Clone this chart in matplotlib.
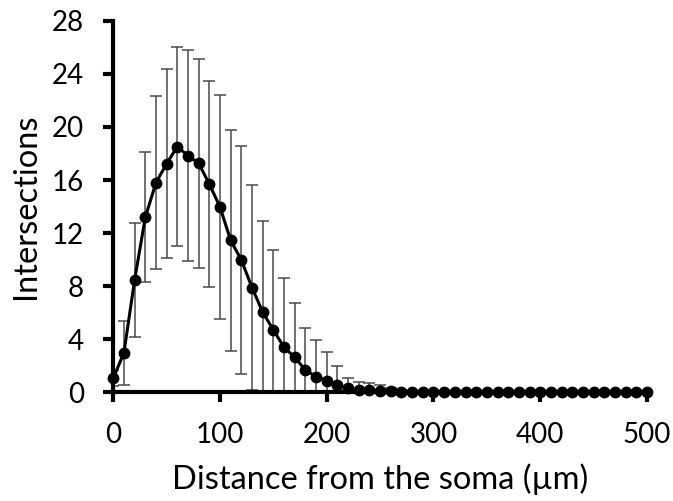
import matplotlib
matplotlib.use("Agg")
import matplotlib.pyplot as plt

distance = list(range(0, 510, 10))
intersections = [1.07, 3.0, 8.47, 13.19, 15.80, 17.23, 18.51, 17.83, 17.26, 15.70,
                 13.97, 11.45, 9.98, 7.9, 6.05, 4.71, 3.4, 2.65, 1.69, 1.19,
                 0.89, 0.56, 0.31, 0.2, 0.15, 0.1, 0.08, 0.06, 0.05, 0.05,
                 0.05, 0.05, 0.05, 0.05, 0.05, 0.05, 0.05, 0.05, 0.05, 0.05,
                 0.05, 0.05, 0.05, 0.05, 0.05, 0.05, 0.05, 0.05, 0.05, 0.05, 0.05]
errors = [0.6, 2.4, 4.3, 4.9, 6.5, 7.1, 7.5, 7.95, 7.85, 7.75,
          8.45, 8.35, 8.6, 7.75, 6.85, 6.0, 5.2, 4.07, 3.19, 2.76,
          2.18, 1.4, 0.8, 0.6, 0.55, 0.45, 0.25, 0.15, 0.0, 0.0,
          0.0, 0.0, 0.0, 0.0, 0.0, 0.0, 0.0, 0.0, 0.0, 0.0,
          0.0, 0.0, 0.0, 0.0, 0.0, 0.0, 0.0, 0.0, 0.0, 0.0, 0.0]
xticks = [0, 100, 200, 300, 400, 500]
yticks = [0, 4, 8, 12, 16, 20, 24, 28]

plt.rcParams['font.family'] = ['Lato', 'DejaVu Sans']

fig = plt.figure(figsize=(6.73, 5.01), dpi=100)
ax = fig.add_axes([0.1683, 0.2166, 0.793, 0.7421])

ax.errorbar(distance, intersections, yerr=errors, fmt='none', ecolor='#4a4a4a',
            elinewidth=1.1, capsize=4.5, capthick=1.1, zorder=2)
ax.plot(distance, intersections, color='black', linewidth=2.2, marker='o',
        markersize=7.5, zorder=3, clip_on=False)

ax.set_xlim(0, 500)
ax.set_ylim(0, 28)
ax.set_xticks(xticks)
ax.set_yticks(yticks)
for s in ['top', 'right']:
    ax.spines[s].set_visible(False)
for s in ['left', 'bottom']:
    ax.spines[s].set_linewidth(3)
    ax.spines[s].set_zorder(4)
ax.tick_params(axis='both', width=3, length=7, labelsize=20, direction='out')
ax.tick_params(axis='y', pad=14)
ax.tick_params(axis='x', pad=14)

ax.set_xlabel('Distance from the soma (µm)', fontsize=23.5, labelpad=11)
ax.set_ylabel('Intersections', fontsize=23.5, labelpad=8)

fig.savefig('out.png', dpi=100)
